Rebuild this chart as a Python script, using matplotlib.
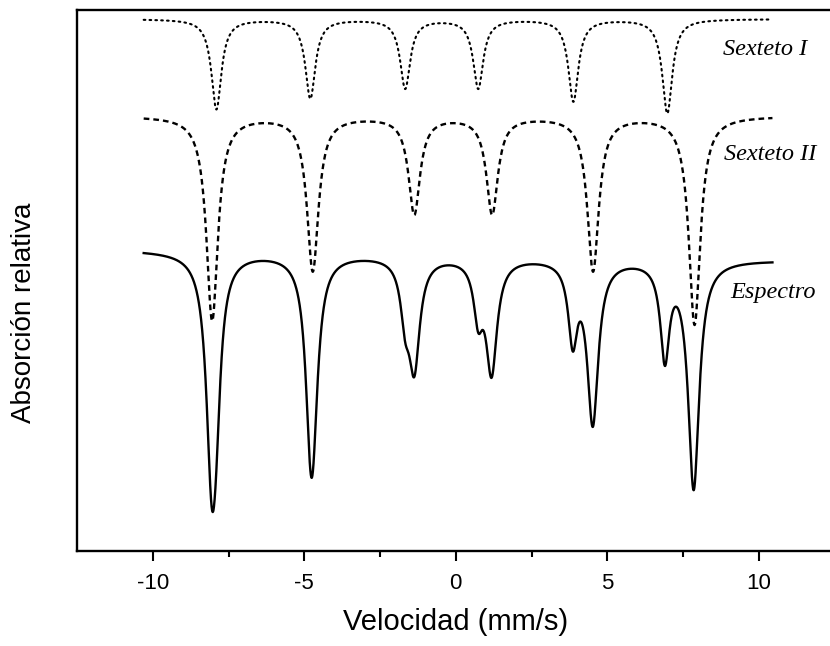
import numpy as np
import matplotlib
matplotlib.use("Agg")
import matplotlib.pyplot as plt

# ---- data (velocity in mm/s, absorption in arbitrary units) ----
# Sexteto I: line positions, depths, half-width, baseline
s1_pos = [-7.90, -4.80, -1.67, 0.74, 3.88, 6.98]
s1_depth = [90, 79, 69, 69, 82, 94]
s1_hw = 0.20
s1_base = 532

# Sexteto II
s2_pos = [-8.04, -4.72, -1.37, 1.20, 4.53, 7.88]
s2_depth = [204, 154, 97, 97, 154, 208]
s2_hw = 0.23
s2_base = 435

# Espectro (measured curve: both sextets together)
e_pos_II = [-8.05, -4.73, -1.37, 1.18, 4.52, 7.85]
e_depth_II = [215, 172, 107, 112, 162, 227]
e_hw_II = 0.22
e_pos_I = [-7.90, -4.82, -1.67, 0.74, 3.86, 6.90]
e_depth_I = [70, 60, 48, 52, 76, 94]
e_hw_I = 0.18
e_base = 296
e_slope = -0.48

vel_range = [-10.3, 10.45]

xticks = [-10, -5, 0, 5, 10]
xminor = [-7.5, -2.5, 2.5, 7.5]
labels = ["Sexteto I", "Sexteto II", "Espectro"]


def lorentz_dips(v, pos, depth, hw):
    d = np.zeros_like(v)
    for c, a in zip(pos, depth):
        d += a / (1 + ((v - c) / hw) ** 2)
    return d


v = np.linspace(vel_range[0], vel_range[1], 4000)
y1 = s1_base - lorentz_dips(v, s1_pos, s1_depth, s1_hw)
y2 = s2_base - lorentz_dips(v, s2_pos, s2_depth, s2_hw)
y3 = (e_base + e_slope * v
      - lorentz_dips(v, e_pos_II, e_depth_II, e_hw_II)
      - lorentz_dips(v, e_pos_I, e_depth_I, e_hw_I))

fig = plt.figure(figsize=(8.3, 6.46), dpi=100)
ax = fig.add_axes([0.0928, 0.147, 0.9127, 0.8375])
ax.set_xlim(-12.5, 12.5)
ax.set_ylim(0, 541)

ax.plot(v, y1, color="black", lw=1.5, linestyle=(0, (0.8, 2.0)), dash_capstyle="round")
ax.plot(v, y2, color="black", lw=1.7, linestyle=(0, (2.4, 1.7)))
ax.plot(v, y3, color="black", lw=1.7)

serif = ["Liberation Serif", "DejaVu Serif"]
ax.text(8.83, 496, labels[0], family=serif, style="italic", fontsize=17.5, va="baseline")
ax.text(8.86, 391, labels[1], family=serif, style="italic", fontsize=17.5, va="baseline")
ax.text(9.06, 253, labels[2], family=serif, style="italic", fontsize=17.5, va="baseline")

sans = ["Liberation Sans", "DejaVu Sans"]
ax.set_xticks(xticks)
ax.set_xticklabels([str(t) for t in xticks], family=sans, fontsize=16)
ax.set_xticks(xminor, minor=True)
ax.set_yticks([])
ax.tick_params(axis="x", which="major", direction="out", length=7, width=1.5, pad=9)
ax.tick_params(axis="x", which="minor", direction="out", length=4, width=1.5)
for s in ["left", "top", "bottom"]:
    ax.spines[s].set_linewidth(1.7)
ax.spines["right"].set_visible(False)

ax.set_xlabel("Velocidad (mm/s)", family=sans, fontsize=21, labelpad=10)
ax.set_ylabel("Absorción relativa", family=sans, fontsize=20)
ax.yaxis.set_label_coords(-0.053, 0.44)

fig.savefig("out.png", dpi=100)
